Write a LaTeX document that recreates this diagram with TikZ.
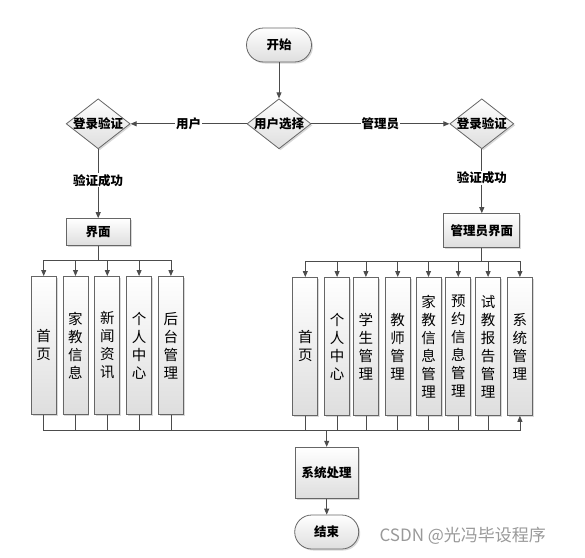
\documentclass[tikz,border=0pt]{standalone}
\usepackage{fontspec}
\setmainfont{Noto Sans CJK SC}
\usetikzlibrary{positioning, arrows.meta, shapes.geometric, shadows, calc}

\begin{document}
\begin{tikzpicture}[
  x=1pt, y=1pt,
  font=\fontsize{12.5}{14}\selectfont\bfseries,
  >={Triangle[length=6pt, width=5pt]},
  line/.style={draw=black!70, line width=0.8pt},
  arr/.style={line, ->},
  shade/.style={draw=black!60, line width=0.8pt, top color=white, bottom color=black!13,
    drop shadow={shadow xshift=1.5pt, shadow yshift=-1.5pt, fill=black!30, opacity=0.5}},
  term/.style={shade, rounded corners=17pt, minimum width=65pt, minimum height=34pt},
  decide/.style={shade, diamond, aspect=1.28, inner sep=-1.5pt, minimum width=64pt, minimum height=50pt},
  box/.style={shade, rectangle, minimum width=64pt, minimum height=27pt},
  col/.style={shade, rectangle, minimum width=25pt, minimum height=138pt, inner sep=0pt, align=center,
    font=\fontsize{14.5}{18}\selectfont\mdseries},
  lbl/.style={fill=white, inner sep=1pt},
]
\useasboundingbox (-279,45) rectangle (306,-512);

% ---- start and user choice ----
\node[term] (start) at (0,0) {开始};
\node[decide, below=36pt of start] (choose) {用户选择};
\draw[arr] (start) -- (choose);

% ---- two logins ----
\node[decide, left=116pt of choose] (loginU) {登录验证};
\node[decide, right=138pt of choose] (loginA) {登录验证};
\draw[arr] (choose) -- node[lbl] {用户} (loginU);
\draw[arr] (choose) -- node[lbl] {管理员} (loginA);

\node[box, below=69pt of loginU] (uiU) {界面};
\node[box, below=64pt of loginA, minimum width=76pt, minimum height=34pt] (uiA) {管理员界面};
\draw[arr] (loginU) -- node[lbl, pos=0.45] {验证成功} (uiU);
\draw[arr] (loginA) -- node[lbl, pos=0.45] {验证成功} (uiA);

% ---- user modules ----
\node[col, below=30pt of uiU, xshift=-54.5pt] (uL1) {首\\页};
\node[col, right=6pt of uL1] (uL2) {家\\教\\信\\息};
\node[col, right=6pt of uL2] (uL3) {新\\闻\\资\\讯};
\node[col, right=6pt of uL3] (uL4) {个\\人\\中\\心};
\node[col, right=6pt of uL4] (uL5) {后\\台\\管\\理};

% ---- admin modules ----
\node[col, below=29pt of uiA, xshift=-176.5pt] (rL1) {首\\页};
\node[col, right=6pt of rL1] (rL2) {个\\人\\中\\心};
\node[col, right=3pt of rL2] (rL3) {学\\生\\管\\理};
\node[col, right=6pt of rL3] (rL4) {教\\师\\管\\理};
\node[col, right=5pt of rL4] (rL5) {家\\教\\信\\息\\管\\理};
\node[col, right=4pt of rL5] (rL6) {预\\约\\信\\息\\管\\理};
\node[col, right=4pt of rL6] (rL7) {试\\教\\报\\告\\管\\理};
\node[col, right=6pt of rL7] (rL8) {系\\统\\管\\理};

% ---- top buses ----
\coordinate[below=14pt of uiU.south] (busU);
\coordinate[below=13pt of uiA.south] (busA);
\draw[line] (uiU) -- (busU);
\draw[line] (uiA) -- (busA);
\draw[line] (uL1.north |- busU) -- (uL5.north |- busU);
\draw[line] (rL1.north |- busA) -- (rL8.north |- busA);
\foreach \c in {uL1,uL2,uL3,uL4,uL5} \draw[arr] (\c.north |- busU) -- (\c);
\foreach \c in {rL1,rL2,rL3,rL4,rL5,rL6,rL7,rL8} \draw[arr] (\c.north |- busA) -- (\c);

% ---- bottom bus and end ----
\coordinate[below=16pt of uL1.south] (busB);
\foreach \c in {uL1,uL2,uL3,uL4,uL5,rL1,rL2,rL3,rL4,rL5,rL6,rL7} \draw[line] (\c.south) -- (\c.south |- busB);
\draw[line] (busB) -- (rL8.south |- busB);
\draw[arr] (rL8.south |- busB) -- (rL8.south);

\node[box, below=16pt of busB, xshift=283pt, minimum width=63pt, minimum height=51pt] (sys) {系统处理};
\draw[arr] (sys.north |- busB) -- (sys);
\node[term, below=16pt of sys, minimum width=64pt] (stop) {结束};
\draw[arr] (sys) -- (stop);

\node[anchor=west, text=black!40, font=\fontsize{17}{20}\selectfont\mdseries] (wm) at (97,-491) {CSDN @光冯毕设程序};
\end{tikzpicture}
\end{document}
